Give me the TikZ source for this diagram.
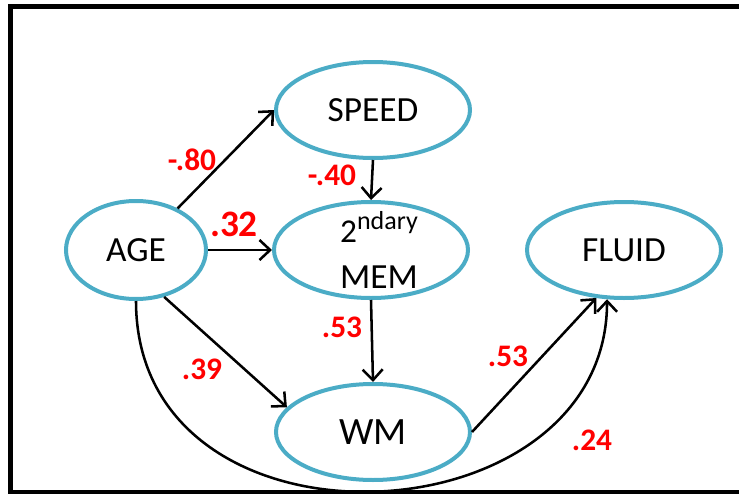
\documentclass[tikz,border=0pt]{standalone}
\usepackage{fontspec}
\setmainfont{Carlito}
\usetikzlibrary{shapes.geometric, arrows.meta}
\definecolor{ovalblue}{RGB}{75,172,198}

\begin{document}
\begin{tikzpicture}[x=0.75pt,y=-0.75pt,
  var/.style={ellipse,draw=ovalblue,line width=3pt,inner sep=0pt,minimum width=145.5pt,minimum height=72pt,font=\fontsize{26.5}{32}\selectfont},
  memtxt/.style={align=center,inner sep=0pt,xshift=6pt,font=\fontsize{26.5}{34.5}\selectfont},
  coef/.style={text=red,inner sep=0pt,font=\fontsize{23.5}{28}\selectfont\bfseries},
  link/.style={->,>={Straight Barb[length=8pt,width=15pt]},line width=1.9pt}]
\useasboundingbox (0,0) rectangle (739,496);
\draw[line width=3.5pt] (750,6.5) -- (10.5,6.5) -- (10.5,492) -- (750,492);%le cadre

\node[var] (SPEED) at (373,110) {SPEED};
\node[var,label={[memtxt]center:{{\fontsize{25}{30}\selectfont 2}\raisebox{10pt}{\fontsize{19.5}{22}\selectfont ndary}\\MEM}}] (MEM) at (371,250) {};
\node[var,minimum width=105pt,minimum height=73.5pt] (AGE) at (136,250) {AGE};
\node[var] (FLUID) at (624,250) {FLUID};
\node[var,font=\fontsize{29}{34}\selectfont] (WM) at (373,432) {WM};

\draw[link] (AGE.45) -- (SPEED.west);
\draw[link] (AGE.east) -- (MEM.west);
\draw[link] (SPEED.south) -- (MEM.north);
\draw[link] (MEM.south) -- (WM.north);
\draw[link] (AGE.-59) -- (WM.164);
\draw[link] (WM.east) -- (FLUID.-120);
\draw[link] (AGE.south) .. controls +(0,265) and +(0,245) .. (FLUID.-109);%la courbe

\node[coef] (c80) at (192,160) {-.80};
\node[coef,font=\fontsize{28}{32}\selectfont\bfseries] (c32) at (234,224) {.32};
\node[coef] (c40) at (332,175) {-.40};
\node[coef] (c53a) at (342,327) {.53};
\node[coef] (c39) at (202,369) {.39};
\node[coef] (c53b) at (508,356) {.53};
\node[coef] (c24) at (592,440) {.24};

\end{tikzpicture}
\end{document}
